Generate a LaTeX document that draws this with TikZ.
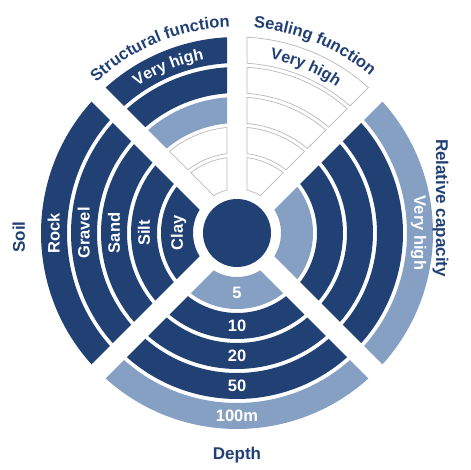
\documentclass[tikz,border=0pt]{standalone}
\usepackage{fontspec}
\setmainfont{Liberation Sans}
\usetikzlibrary{decorations.text}
\definecolor{navy}{RGB}{33,64,116}
\definecolor{pale}{RGB}{134,160,196}
\definecolor{rim}{RGB}{185,185,185}
\newcommand{\gapw}{10}
% ring piece between the dividing lines #1 and #2, radii #3..#4, style #5
\newcommand{\ringpart}[5]{\draw[#5] ({#1+asin(\gapw/#4)}:#4pt) arc[start angle={#1+asin(\gapw/#4)}, end angle={#2-asin(\gapw/#4)}, radius=#4pt] -- ({#2-asin(\gapw/#3)}:#3pt) arc[start angle={#2-asin(\gapw/#3)}, end angle={#1+asin(\gapw/#3)}, radius=#3pt] -- cycle;}

\begin{document}
\begin{tikzpicture}[x=1pt, y=1pt,
  dark/.style={fill=navy, draw=none},
  light/.style={fill=pale, draw=none},
  open/.style={fill=white, draw=rim, line width=0.7pt},
  lab/.style={text=white, font=\bfseries\fontsize{16.5}{16.5}\selectfont, inner sep=0pt, text height=11.5pt, text depth=0pt},
  ttl/.style={text=navy, font=\bfseries\fontsize{17}{17}\selectfont, inner sep=0pt, text height=12pt, text depth=0pt}]
\useasboundingbox (-237,-237) rectangle (233,233);
% rings: structural, sealing, capacity, depth, soil
\foreach \ri/\ro/\sa/\sb/\sc/\sd in {44/76/open/open/light/light, 80/106/open/open/dark/dark, 110/136/light/open/dark/dark, 140/166/dark/open/dark/dark, 170/196/dark/open/light/light}{
  \ringpart{90}{135}{\ri}{\ro}{\sa}
  \ringpart{45}{90}{\ri}{\ro}{\sb}
  \ringpart{-45}{45}{\ri}{\ro}{\sc}
  \ringpart{225}{315}{\ri}{\ro}{\sd}
  \ringpart{135}{225}{\ri}{\ro}{dark}
}
\node[circle, fill=navy, minimum size=68pt, inner sep=0pt] (hub) at (0,0) {};
% ring labels
\foreach \t/\r in {Clay/60,Silt/93,Sand/123,Gravel/153,Rock/183} \node[lab, rotate=90] (soil-\t) at (180:\r) {\t};
\foreach \t/\r [count=\k] in {5/60,10/93,20/123,50/153,100m/183} \node[lab] (depth-\k) at (270:\r) {\t};
\node[lab, rotate=-90] (cap-vh) at (0:183) {Very high};
\path[decorate, decoration={text along path, text align=center, text color=white, text={|\bfseries\fontsize{16}{16}\selectfont|Very high}}] (150:177) arc[start angle=150, end angle=75, radius=177pt];
\path[decorate, decoration={text along path, text align=center, text color=navy, text={|\bfseries\fontsize{16}{16}\selectfont|Very high}}] (105:177) arc[start angle=105, end angle=30, radius=177pt];
% titles
\path[decorate, decoration={text along path, text align=center, text color=navy, text={|\bfseries\fontsize{16.5}{16.5}\selectfont|Structural function}}] (160:206) arc[start angle=160, end angle=65, radius=206pt];
\path[decorate, decoration={text along path, text align=center, text color=navy, text={|\bfseries\fontsize{16.5}{16.5}\selectfont|Sealing function}}] (115:206) arc[start angle=115, end angle=20, radius=206pt];
\node[ttl, rotate=90] (soil) at (-218,-4) {Soil};
\node[ttl] (depth) at (0,-220) {Depth};
\node[ttl, rotate=-90] (capacity) at (205,25) {Relative capacity};
\end{tikzpicture}
\end{document}
